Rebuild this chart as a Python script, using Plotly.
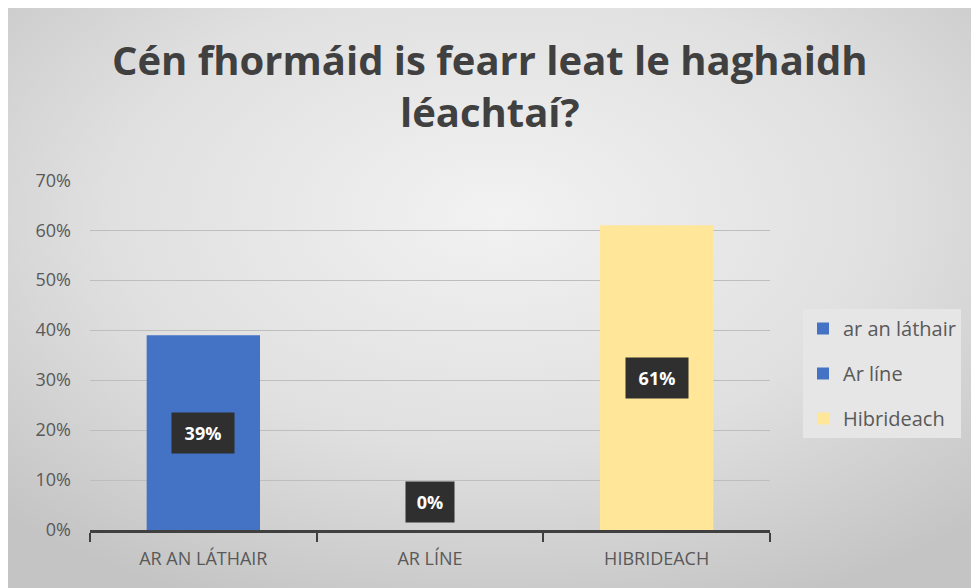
import base64
import plotly.graph_objects as go

categories = ["AR AN LÁTHAIR", "AR LÍNE", "HIBRIDEACH"]
series_names = ["ar an láthair", "Ar líne", "Hibrideach"]
values = [0.39, 0.0, 0.61]
colors = ["#4472C4", "#4472C4", "#FFE699"]
tick_vals = [0, 0.1, 0.2, 0.3, 0.4, 0.5, 0.6, 0.7]
tick_text = ["0%", "10%", "20%", "30%", "40%", "50%", "60%", "70%"]
title_text = "Cén fhormáid is fearr leat le haghaidh<br>léachtaí?"

W, H = 979, 588
L, R, T, B = 82, 217, 172, 66
PW, PH = W - L - R, H - T - B

fig = go.Figure()
for name, cat, v, c in zip(series_names, categories, values, colors):
    fig.add_trace(go.Bar(
        x=[cat], y=[v], name=name, legendgroup=name,
        marker=dict(color=c, line=dict(width=0)),
        width=0.5, hoverinfo="skip",
    ))

for cat, v in zip(categories, values):
    label = f"{round(v*100)}%"
    fig.add_annotation(
        x=cat, y=v / 2 if v > 0 else 0, xref="x", yref="y",
        text=f"<b>{label}</b>", showarrow=False,
        yanchor="middle" if v > 0 else "bottom", yshift=0 if v > 0 else 7,
        font=dict(family="Open Sans", size=18, color="white"),
        bgcolor="#2f2f2f", borderpad=0,
        width=14 * len(label) + 20, height=40,
    )

fig.add_annotation(
    text=f"<b>{title_text}</b>", xref="paper", yref="paper",
    x=(482 - L) / PW, y=1 + (T - 22) / PH, xanchor="center", yanchor="top",
    showarrow=False, font=dict(family="Open Sans", size=40, color="#404040"),
)

svg = ('<svg xmlns="http://www.w3.org/2000/svg" width="979" height="588">'
       '<defs><radialGradient id="g" cx="50%" cy="35%" r="72%">'
       '<stop offset="0%" stop-color="#f2f2f2"/><stop offset="55%" stop-color="#e0e0e0"/>'
       '<stop offset="100%" stop-color="#c4c4c4"/></radialGradient></defs>'
       '<rect width="979" height="588" fill="url(#g)"/></svg>')
src = "data:image/svg+xml;base64," + base64.b64encode(svg.encode()).decode()

fig.update_layout(
    width=W, height=H,
    images=[dict(source=src, xref="paper", yref="paper", x=-L / PW, y=1 + T / PH,
                 sizex=W / PW, sizey=H / PH, sizing="stretch", layer="below",
                 xanchor="left", yanchor="top")],
    paper_bgcolor="#dddddd", plot_bgcolor="rgba(0,0,0,0)",
    margin=dict(l=L, r=R, t=T, b=B),
    barmode="overlay",
    xaxis=dict(categoryorder="array", categoryarray=categories,
               showline=True, linecolor="#404040", linewidth=3,
               ticks="outside", tickson="boundaries", ticklen=9, tickwidth=2, tickcolor="#404040",
               ticklabelstandoff=10,
               tickfont=dict(family="Open Sans", size=18, color="#595959"),
               showgrid=False),
    yaxis=dict(range=[0, 0.7005], tickvals=tick_vals, ticktext=tick_text,
               showgrid=True, gridcolor="#c0bebc", gridwidth=1, zeroline=False,
               ticks="", ticklabelstandoff=18,
               tickfont=dict(family="Open Sans", size=18, color="#595959")),
    legend=dict(x=(795 - L) / PW, xanchor="left", y=(522 - 365.5) / PH, yanchor="middle",
                font=dict(family="Open Sans", size=20, color="#595959"),
                bgcolor="#e6e6e6", itemwidth=30, tracegroupgap=16, traceorder="grouped"),
    showlegend=True,
)

fig.write_html("out.html")
